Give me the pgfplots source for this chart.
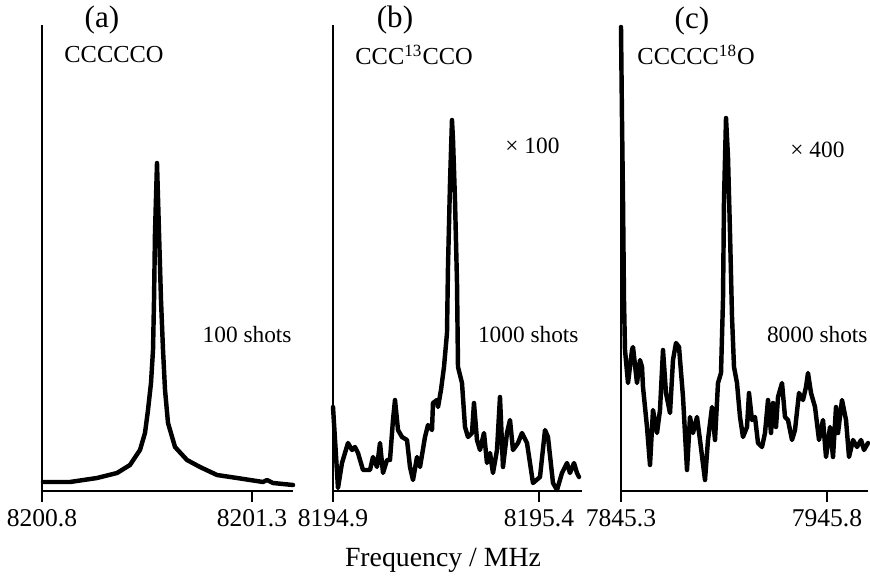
\documentclass[border=0pt]{standalone}
\usepackage{fontspec}
\setmainfont{Liberation Serif}
\usepackage{pgfplots}
\pgfplotsset{compat=1.18}
\usepackage{pgfplotstable}

% Delta f in MHz from the left tick value, intensity in arbitrary units
\pgfplotstableread{
df I
0.0024 9
0.0667 9
0.1310 13
0.1786 18
0.2095 26
0.2333 41
0.2452 58
0.2524 81
0.2595 108
0.2643 141
0.2667 191
0.2690 258
0.2738 328
0.2786 258
0.2833 191
0.2881 141
0.2929 101
0.3000 68
0.3167 44
0.3452 31
0.3762 24
0.4167 16
0.4643 13
0.5262 9
0.5357 11
0.5500 8
0.5976 6
}\dataA

\pgfplotstableread{
df I
0.0000 84
0.0121 3
0.0218 28
0.0364 48
0.0461 41
0.0534 44
0.0607 38
0.0728 21
0.0898 21
0.0971 34
0.1068 24
0.1141 48
0.1214 18
0.1311 31
0.1383 31
0.1456 71
0.1505 91
0.1578 61
0.1675 54
0.1796 51
0.1869 24
0.1942 11
0.2039 34
0.2112 24
0.2233 54
0.2306 66
0.2403 61
0.2427 88
0.2524 91
0.2549 84
0.2621 101
0.2694 124
0.2767 158
0.2791 224
0.2840 308
0.2888 371
0.2913 351
0.2961 291
0.3010 208
0.3034 124
0.3131 108
0.3204 64
0.3277 54
0.3374 58
0.3422 88
0.3495 51
0.3568 41
0.3665 58
0.3738 28
0.3811 38
0.3883 18
0.3981 41
0.4053 94
0.4126 24
0.4223 58
0.4296 71
0.4369 41
0.4490 48
0.4587 58
0.4709 48
0.4854 8
0.5024 14
0.5146 61
0.5218 54
0.5340 8
0.5437 1
0.5558 18
0.5680 28
0.5752 18
0.5850 28
0.5922 18
0.5971 14
}\dataB

\pgfplotstableread{
df I
0.00 464
0.49 371
0.98 291
1.46 191
1.95 141
3.42 108
5.37 141
5.85 144
7.81 108
9.27 131
10.25 124
10.73 104
12.68 64
14.15 26
15.61 81
17.56 58
19.03 81
20.49 141
21.95 98
23.91 78
25.37 131
26.83 148
28.30 144
30.25 94
32.20 21
33.66 74
35.13 58
37.08 74
38.54 51
40.98 11
42.44 51
44.40 84
45.86 51
47.32 108
48.79 118
49.76 191
50.25 291
51.23 373
52.20 334
53.18 258
54.16 174
55.13 124
56.59 108
58.06 74
59.52 54
61.47 64
62.45 98
63.91 71
65.37 74
66.84 48
68.79 44
70.25 58
71.72 91
73.18 58
74.16 88
75.62 64
76.60 94
78.55 108
80.01 74
81.47 71
83.43 51
84.89 61
86.84 98
88.79 91
90.25 104
91.23 118
92.70 98
94.65 84
96.60 51
98.55 71
100.02 34
101.97 64
103.43 34
104.90 84
105.87 58
107.82 91
109.78 71
111.24 34
113.19 51
115.15 44
117.10 51
118.56 41
120.51 48
}\dataC

\pgfplotsset{
  panel/.style={
    anchor=south west, scale only axis,
    height=209.7pt,
    ymin=0, ymax=466,
    axis x line=bottom, axis y line=left,
    axis line style={-, black},
    every outer x axis line/.append style={line width=1.2pt},
    every outer y axis line/.append style={line width=0.9pt},
    ytick=\empty,
    tick align=outside,
    major tick length=5pt,
    tick style={black, line width=0.9pt},
    xtick pos=bottom,
    xticklabel style={font=\fontsize{11.5}{13}\selectfont, inner sep=1pt, yshift=-2pt},
    /pgf/number format/assume math mode=true,
    clip=false,
  },
  spec/.style={black, line width=2pt, line join=round, line cap=round, no markers},
}

\begin{document}
\begin{tikzpicture}
\useasboundingbox (0,0) rectangle (391.5pt,260.1pt);

\begin{axis}[panel, at={(18.9pt,39.15pt)}, width=112.95pt,
  xmin=0, xmax=0.5976, xtick={0,0.5}, xticklabels={8200.8,8201.3}]
  \addplot[spec] table[x=df, y=I] {\dataA};
\end{axis}

\begin{axis}[panel, at={(149.85pt,39.15pt)}, width=112.05pt,
  xmin=0, xmax=0.6044, xtick={0,0.5}, xticklabels={8194.9,8195.4}]
  \addplot[spec] table[x=df, y=I] {\dataB};
\end{axis}

\begin{axis}[panel, at={(279.45pt,39.15pt)}, width=111.15pt,
  xmin=0, xmax=120.5, xtick={0,100.5}, xticklabels={7845.3,7945.8}]
  \addplot[spec] table[x=df, y=I] {\dataC};
\end{axis}

\begin{scope}[every node/.style={inner sep=0pt}]
\node[font=\fontsize{14}{16}\selectfont] at (45.9pt,251.1pt) {(a)};
\node[font=\fontsize{14}{16}\selectfont] at (177.75pt,251.1pt) {(b)};
\node[font=\fontsize{14}{16}\selectfont] at (311.4pt,250.6pt) {(c)};

\node[font=\fontsize{11}{13}\selectfont, anchor=west] at (28.8pt,235.35pt) {CCCCCO};
\node[font=\fontsize{11}{13}\selectfont, anchor=west] at (159.75pt,235.35pt) {CCC\textsuperscript{13}CCO};
\node[font=\fontsize{11}{13}\selectfont, anchor=west] at (286.65pt,235.35pt) {CCCCC\textsuperscript{18}O};

\node[font=\fontsize{10.5}{12}\selectfont, anchor=east] at (131.4pt,109.35pt) {100 shots};
\node[font=\fontsize{10.5}{12}\selectfont, anchor=east] at (260.55pt,109.35pt) {1000 shots};
\node[font=\fontsize{10.5}{12}\selectfont, anchor=east] at (390.6pt,109.35pt) {8000 shots};

\node[font=\fontsize{10.5}{12}\selectfont, anchor=west] at (227.25pt,194.4pt) {× 100};
\node[font=\fontsize{10.5}{12}\selectfont, anchor=west] at (355.5pt,192.6pt) {× 400};

\node[font=\fontsize{12.5}{15}\selectfont] at (199.35pt,8.1pt) {Frequency / MHz};
\end{scope}
\end{tikzpicture}
\end{document}
